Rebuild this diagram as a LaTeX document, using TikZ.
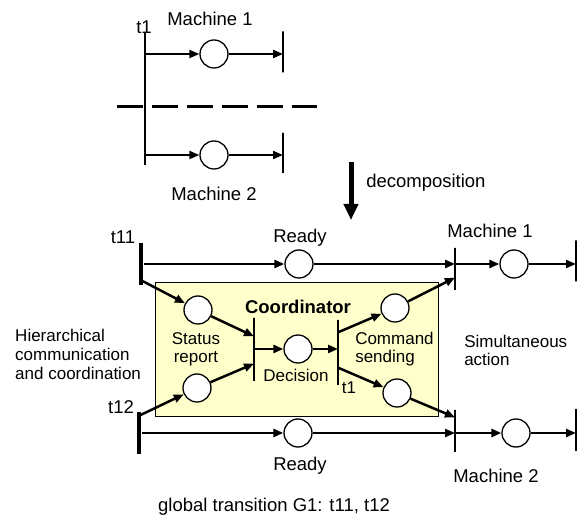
\documentclass[tikz,border=0pt]{standalone}
\usepackage{fontspec}
\setmainfont{Liberation Sans}
\usetikzlibrary{arrows.meta,positioning}

\definecolor{coordyellow}{RGB}{255,255,204}
\newcommand{\figfont}{\fontsize{18.5}{18}\selectfont}
\newcommand{\notefont}{\fontsize{17}{18}\selectfont}

\begin{document}
\begin{tikzpicture}[x=1pt,y=-1pt,->,>={Triangle[length=10pt,width=8pt]},line width=2.5pt,
    every node/.style={font=\figfont,inner sep=0pt}]
  \tikzstyle{place}=[circle,draw,fill=white,line width=1.3pt,minimum size=28pt]
  \tikzstyle{trans}=[draw,line width=1.3pt,minimum width=0pt]
  \tikzstyle{globtrans}=[fill=black,minimum width=4pt]
  \tikzstyle{note}=[font=\notefont]

  \useasboundingbox (0,0) rectangle (579,518);

  % before decomposition
  \node[trans,minimum height=132pt] (t1)   at (145,99)  {};
  \node[place]                      (m1p)  at (214,54)  {};
  \node[trans,minimum height=41pt]  (m1e)  at (283,52)  {};
  \node[place]                      (m2p)  at (214,155) {};
  \node[trans,minimum height=40pt]  (m2e)  at (283,153) {};
  \coordinate (cutL) at (117,107);
  \coordinate (cutR) at (317,107);

  \node (t1lbl)    at (144,27)  {t1};
  \node (mach1top) at (210,19)  {Machine 1};
  \node (mach2top) at (214,194) {Machine 2};

  \begin{scope}[line width=2pt]
    \draw (t1 |- m1p) -- (m1p);
    \draw (m1p) -- (m1e |- m1p);
    \draw (t1 |- m2p) -- (m2p);
    \draw (m2p) -- (m2e |- m2p);
  \end{scope}
  \draw[-,line width=3pt,dash pattern=on 26pt off 9pt] (cutL) -- (cutR);

  % decomposition arrow
  \coordinate (dtop) at (351,162);
  \coordinate (dtip) at (351,220);
  \draw[line width=5pt,-{Triangle[length=16pt,width=14pt]}] (dtop) -- (dtip);
  \node[anchor=west] (decomp) at (365,183) {decomposition};

  % coordinator
  \node[draw,fill=coordyellow,line width=0.8pt,minimum width=283pt,minimum height=134pt]
    (coord) at (296.5,349) {};

  \node[globtrans,minimum height=42pt] (t11)  at (141,264) {};
  \node[place]                         (rdy1) at (299,264) {};
  \node[trans,minimum height=42pt]     (m1s)  at (455,269) {};
  \node[place]                         (m1q)  at (514,264) {};
  \node[trans,minimum height=41pt]     (m1f)  at (576,261) {};

  \node[place]                         (sr1)  at (198,310) {};
  \node[place]                         (sr2)  at (197,388) {};
  \node[trans,minimum height=63pt]     (tD)   at (254,349.5) {};
  \node[place]                         (dec)  at (298,349) {};
  \node[trans,minimum height=65pt]     (tC)   at (338,352.5) {};
  \node[place]                         (cs1)  at (395,308) {};
  \node[place]                         (cs2)  at (397,393) {};

  \node[globtrans,minimum height=42pt] (t12)  at (139,433) {};
  \node[place]                         (rdy2) at (298,433) {};
  \node[trans,minimum height=42pt]     (m2s)  at (455,431) {};
  \node[place]                         (m2q)  at (516,433) {};
  \node[trans,minimum height=42pt]     (m2f)  at (576,430) {};

  \draw (t11) -- (rdy1);
  \draw (rdy1) -- (m1s |- rdy1);
  \draw (m1s |- m1q) -- (m1q);
  \draw (m1q) -- (m1f |- m1q);

  \draw ([yshift=6pt]t11.south) -- (sr1);
  \draw ([yshift=-5pt]t12.north) -- (sr2);
  \draw (sr1) -- ([yshift=-19pt]tD.north);
  \draw (sr2) -- ([yshift=18pt]tD.south);
  \draw (tD |- dec) -- (dec);
  \draw (dec) -- (tC |- dec);
  \draw ([yshift=-13pt]tC.north) -- (cs1);
  \draw ([yshift=18pt]tC.south) -- (cs2);
  \draw (cs1) -- ([yshift=13pt]m1s.south);
  \draw (cs2) -- ([yshift=-8pt]m2s.north);

  \draw (t12) -- (rdy2);
  \draw (rdy2) -- (m2s |- rdy2);
  \draw (m2s |- m2q) -- (m2q);
  \draw (m2q) -- (m2f |- m2q);

  % labels
  \node (t11lbl)  at (123,237) {t11};
  \node (t12lbl)  at (121,407) {t12};
  \node (rdy1lbl) at (300,238) {Ready};
  \node (rdy2lbl) at (300,466) {Ready};
  \node (mach1)   at (490,231) {Machine 1};
  \node (mach2)   at (496,476) {Machine 2};
  \node[font=\figfont\bfseries] (coordlbl) at (298,307) {Coordinator};
  \node[note,align=center] (statlbl) at (196,349) {Status\\report};
  \node[note] (declbl)  at (296,375) {Decision};
  \node[note,align=left,anchor=west] (cmdlbl) at (354,349) {Command\\sending};
  \node[note] (t1clbl)  at (349,388) {t1};
  \node[note,align=left,anchor=west] (simlbl) at (463,350) {Simultaneous\\action};
  \node[note,align=left,anchor=west,font=\fontsize{17}{19}\selectfont] (hierlbl) at (14,354)
    {Hierarchical\\communication\\and coordination};
  \node (glob) at (274,507) {global transition G1: t11, t12};
\end{tikzpicture}
\end{document}
